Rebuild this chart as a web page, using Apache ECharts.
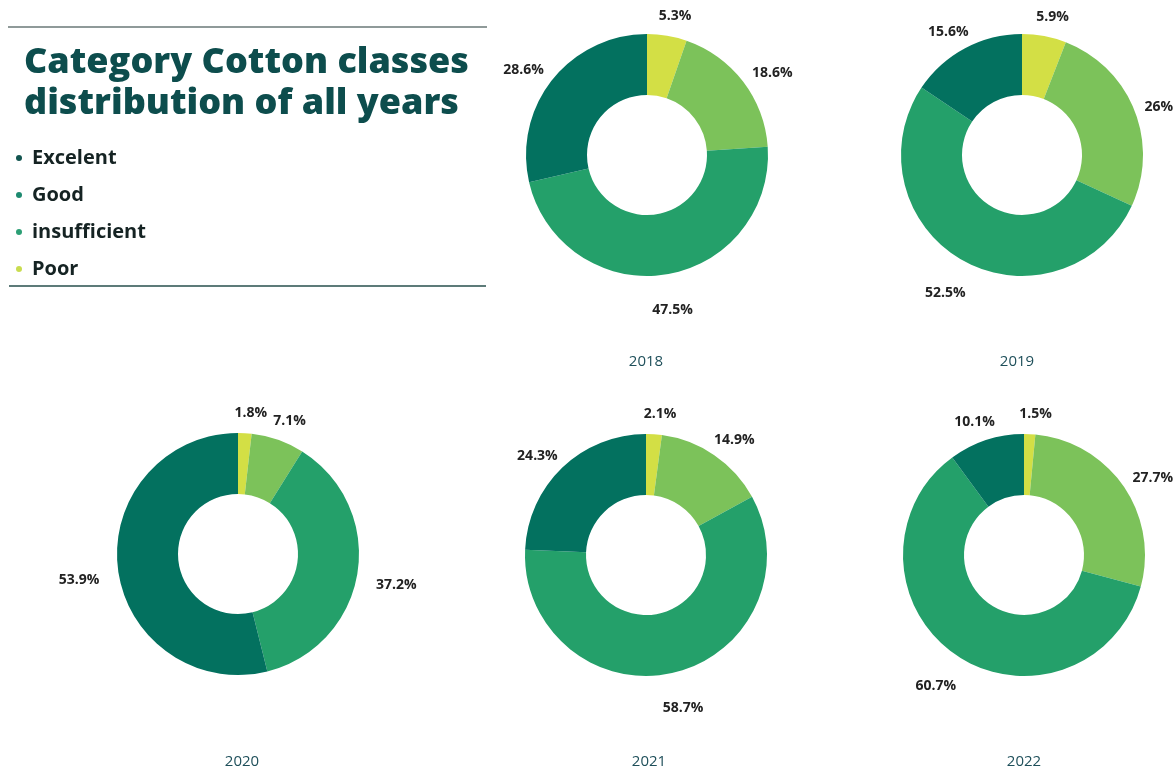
<!DOCTYPE html>
<html>
<head>
<meta charset="utf-8">
<title>Category Cotton classes distribution of all years</title>
<script src="https://cdn.jsdelivr.net/npm/echarts@6/dist/echarts.min.js"></script>
<style>
  html, body { margin: 0; padding: 0; background: #ffffff; }
  #chart { width: 1176px; height: 772px; }
</style>
</head>
<body>
<div id="chart"></div>
<script>
// Share of each cotton class per year (%), slices drawn clockwise from the top
const years = ['2018', '2019', '2020', '2021', '2022'];
const categories = ['Poor', 'insufficient', 'Good', 'Excelent'];
const legendOrder = ['Excelent', 'Good', 'insufficient', 'Poor'];
const poor = [5.3, 5.9, 1.8, 2.1, 1.5];
const insufficient = [18.6, 26, 7.1, 14.9, 27.7];
const good = [47.5, 52.5, 37.2, 58.7, 60.7];
const excelent = [28.6, 15.6, 53.9, 24.3, 10.1];

const sliceColors = {
  Poor: '#d3df45',
  insufficient: '#7cc25a',
  Good: '#24a06a',
  Excelent: '#03715f'
};
const legendDotColors = {
  Excelent: '#12544f',
  Good: '#1d8a70',
  insufficient: '#2c9f75',
  Poor: '#c9dc4f'
};

const centers = [[647, 155], [1022, 155], [238, 554], [646, 555], [1024, 555]];
const yearLabelPos = [[641, 349], [1012, 349], [237, 749], [644, 749], [1019, 749]];

const valuesByCategory = { Poor: poor, insufficient: insufficient, Good: good, Excelent: excelent };

const chart = echarts.init(document.getElementById('chart'), null, { renderer: 'canvas' });

// Push each outside label away from its donut so the text box sits clear of the ring,
// while keeping it inside the canvas
function placeLabel(params) {
  const r = params.labelRect;
  const c = centers[params.seriesIndex];
  let tx = r.x;
  if (params.align === 'right') tx = r.x + r.width;
  else if (params.align === 'center') tx = r.x + r.width / 2;
  const ty = r.y + r.height / 2;
  const vx = tx - c[0];
  const vy = ty - c[1];
  const len = Math.hypot(vx, vy) || 1;
  const ux = vx / len;
  const uy = vy / len;
  let dx = ux * Math.abs(ux) * r.width / 2;
  const maxRight = chart.getWidth() - 3;
  if (tx + dx + r.width / 2 > maxRight) dx = maxRight - r.width / 2 - tx;
  return {
    align: 'center',
    verticalAlign: 'middle',
    dx: dx,
    dy: uy * (r.height / 2 + 7) + 8
  };
}

const series = years.map((year, i) => ({
  type: 'pie',
  name: year,
  center: centers[i],
  radius: [60, 121],
  startAngle: 90,
  clockwise: true,
  avoidLabelOverlap: false,
  silent: true,
  label: {
    show: true,
    position: 'outside',
    formatter: p => p.value + '%',
    fontFamily: 'Open Sans',
    fontWeight: 700,
    fontSize: 14,
    color: '#222222'
  },
  labelLine: { show: false, length: 14, length2: 0 },
  labelLayout: placeLabel,
  itemStyle: { borderWidth: 0 },
  emphasis: { disabled: true },
  data: categories.map(c => ({
    name: c,
    value: valuesByCategory[c][i],
    itemStyle: { color: sliceColors[c] }
  }))
}));

const yearTitles = years.map((year, i) => ({
  text: year,
  left: yearLabelPos[i][0],
  top: yearLabelPos[i][1],
  textAlign: 'center',
  textStyle: {
    fontFamily: 'Open Sans',
    fontWeight: 500,
    fontSize: 15,
    color: '#1e4f5a'
  }
}));

chart.setOption({
  backgroundColor: '#ffffff',
  animation: false,
  title: [
    {
      text: 'Category Cotton classes\ndistribution of all years',
      left: 19,
      top: 37,
      textStyle: {
        fontFamily: 'Open Sans',
        fontWeight: 800,
        fontSize: 36,
        lineHeight: 41,
        color: '#0d4d4d'
      }
    }
  ].concat(yearTitles),
  legend: {
    orient: 'vertical',
    left: 11,
    top: 143,
    itemGap: 17,
    itemWidth: 6,
    itemHeight: 6,
    icon: 'circle',
    selectedMode: false,
    textStyle: {
      fontFamily: 'Open Sans',
      fontWeight: 700,
      fontSize: 20,
      color: '#152323',
      padding: [3, 0, 0, 5]
    },
    data: legendOrder.map(n => ({ name: n, itemStyle: { color: legendDotColors[n] } }))
  },
  graphic: [
    {
      type: 'line',
      shape: { x1: 8, y1: 27, x2: 487, y2: 27 },
      style: { stroke: '#8f9a99', lineWidth: 2 }
    },
    {
      type: 'line',
      shape: { x1: 9, y1: 286, x2: 486, y2: 286 },
      style: { stroke: '#5d7b79', lineWidth: 2 }
    }
  ],
  series: series
});
</script>
</body>
</html>
